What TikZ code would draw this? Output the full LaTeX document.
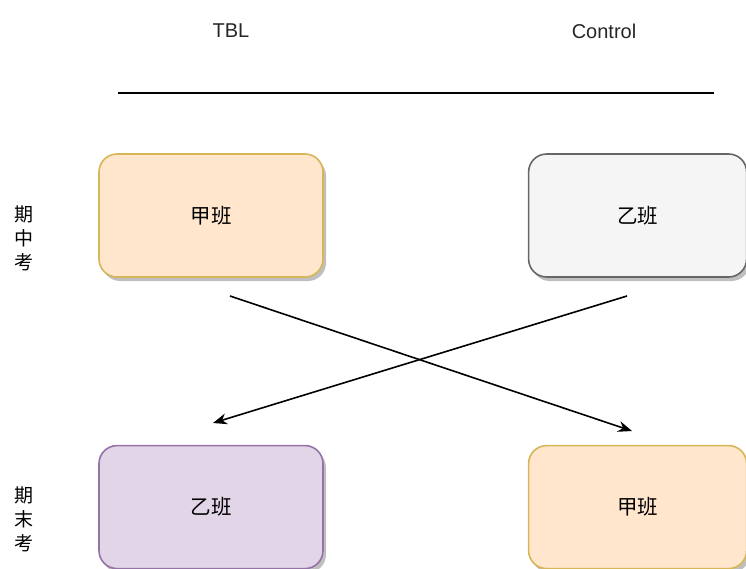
\documentclass[tikz,border=0pt]{standalone}
\usepackage{fontspec}
\usetikzlibrary{positioning, shadows, arrows.meta}
\newfontfamily\latinfont{Liberation Sans}
\newfontfamily\cjk{Noto Sans CJK SC}
\definecolor{tbl_fill}{HTML}{FFE6CC}
\definecolor{tbl_draw}{HTML}{D6B656}
\definecolor{ctrl_fill}{HTML}{F5F5F5}
\definecolor{ctrl_draw}{HTML}{666666}
\definecolor{swap_fill}{HTML}{E1D5E7}
\definecolor{swap_draw}{HTML}{9673A6}

\begin{document}
\begin{tikzpicture}[
    x=1pt, y=-1pt,
    % class blocks
    classbox/.style={
        rectangle,
        rounded corners=18pt,
        line width=1.6pt,
        minimum height=123pt,
        align=center,
        font=\cjk\fontsize{20.5}{24}\selectfont,
        drop shadow={shadow xshift=3pt, shadow yshift=-4pt, fill=black, opacity=0.25}
    },
    header/.style={font=\latinfont\fontsize{20}{24}\selectfont, text=black!85},
    examlabel/.style={align=center, font=\cjk\fontsize{19}{24}\selectfont},
    arrow/.style={-{Stealth[length=14pt, width=11pt]}, line width=1.6pt}
]
    \useasboundingbox (0,0) rectangle (746,569);

    % ==========================================
    % 1. HEADER
    % ==========================================

    \node (tbl) [header] at (231,31) {TBL};
    \node (control) [header] at (604,31) {Control};

    \coordinate (rule_l) at (118,93);
    \coordinate (rule_r) at (714,93);
    \draw [line width=1.6pt] (rule_l) -- (rule_r);

    % ==========================================
    % 2. CLASS BLOCKS
    % ==========================================

    % Midterm
    \node (jia_mid) [classbox, fill=tbl_fill, draw=tbl_draw, minimum width=224pt] at (211,215.5) {甲班};
    \node (yi_mid) [classbox, fill=ctrl_fill, draw=ctrl_draw, minimum width=218pt, right=204pt of jia_mid] {乙班};

    % Final
    \node (yi_final) [classbox, fill=swap_fill, draw=swap_draw, minimum width=224pt, below=167pt of jia_mid] {乙班};
    \node (jia_final) [classbox, fill=tbl_fill, draw=tbl_draw, minimum width=218pt, below=167pt of yi_mid] {甲班};

    % Row labels
    \node (mid_label) [examlabel] at (24,238) {期\\中\\考};
    \node (final_label) [examlabel] at (24,519) {期\\末\\考};

    % ==========================================
    % 3. CROSSOVER ARROWS
    % ==========================================

    \coordinate (jia_from) at (230,296);
    \coordinate (jia_to) at (632,431);
    \coordinate (yi_from) at (627,296);
    \coordinate (yi_to) at (213,423);

    \draw [arrow] (jia_from) -- (jia_to);
    \draw [arrow] (yi_from) -- (yi_to);

\end{tikzpicture}
\end{document}
